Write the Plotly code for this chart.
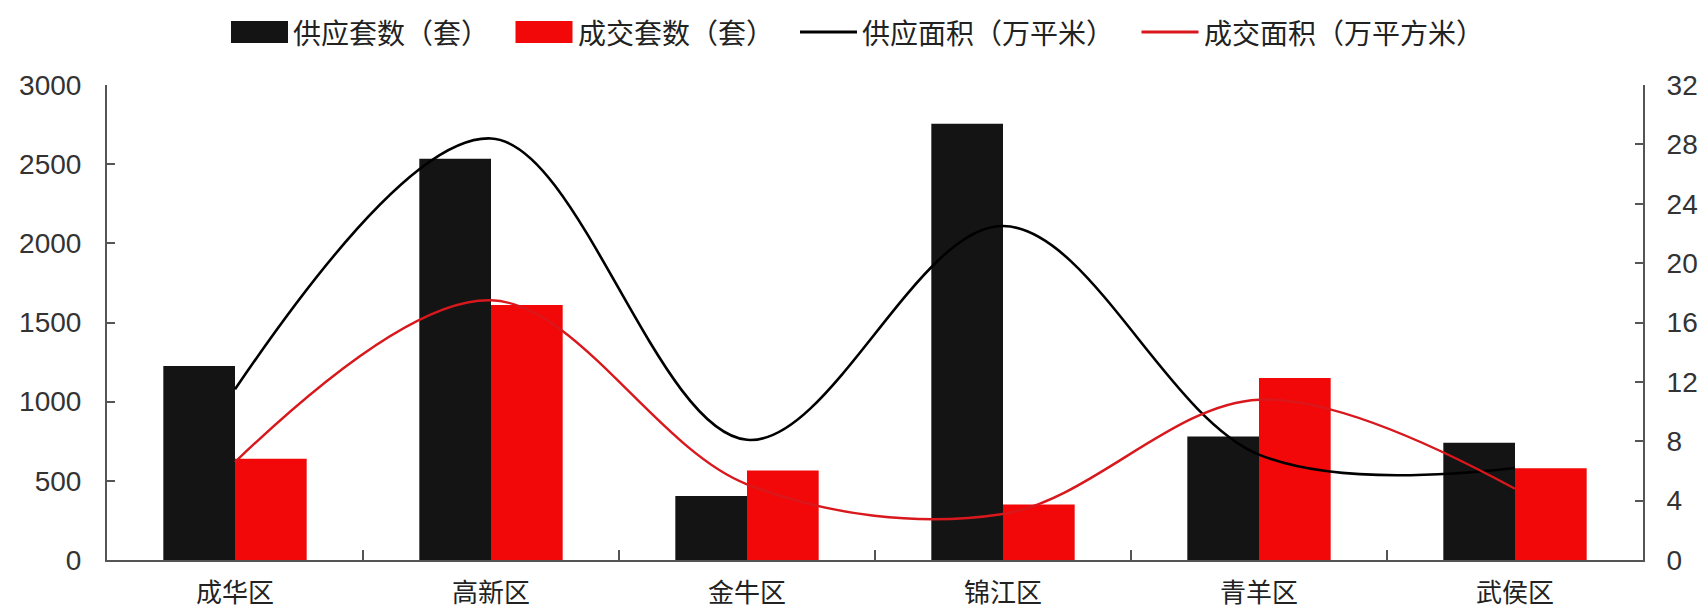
import plotly.graph_objects as go

# District-level supply and transaction data
districts = ["成华区", "高新区", "金牛区", "锦江区", "青羊区", "武侯区"]
supply_units = [1225, 2535, 405, 2755, 780, 740]      # 供应套数（套）
deal_units = [640, 1610, 565, 350, 1150, 580]         # 成交套数（套）
supply_area = [11.5, 28.4, 8.1, 22.5, 7.1, 6.2]       # 供应面积（万平米）
deal_area = [6.6, 17.5, 5.1, 3.1, 10.8, 4.8]          # 成交面积（万平方米）

left_ticks = [0, 500, 1000, 1500, 2000, 2500, 3000]
right_ticks = [0, 4, 8, 12, 16, 20, 24, 28, 32]

series_names = ["供应套数（套）", "成交套数（套）", "供应面积（万平米）", "成交面积（万平方米）"]

BLACK = "#141414"
RED = "#f20808"
RED_LINE = "#d8181c"
AXIS = "#555555"

W, H = 1700, 611
ML, MR, MT, MB = 107, 57, 85, 51
PW, PH = W - ML - MR, H - MT - MB

fig = go.Figure()
fig.add_trace(go.Bar(x=districts, y=supply_units, name=series_names[0],
                     marker=dict(color=BLACK, line=dict(width=0))))
fig.add_trace(go.Bar(x=districts, y=deal_units, name=series_names[1],
                     marker=dict(color=RED, line=dict(width=0))))
fig.add_trace(go.Scatter(x=districts, y=supply_area, name=series_names[2], yaxis="y2",
                         mode="lines", line=dict(color="#000000", width=2.6,
                                                 shape="spline", smoothing=1.0)))
fig.add_trace(go.Scatter(x=districts, y=deal_area, name=series_names[3], yaxis="y2",
                         mode="lines", line=dict(color=RED_LINE, width=2.4,
                                                 shape="spline", smoothing=1.0)))

tick_font = dict(family="Liberation Sans, Arial, sans-serif", size=28, color="#333333")
cjk_font = dict(family="Noto Sans CJK SC, sans-serif", size=28, color="#222222")

fig.update_layout(
    width=W, height=H,
    margin=dict(l=ML, r=MR, t=MT, b=MB, pad=0, autoexpand=False),
    paper_bgcolor="white", plot_bgcolor="white",
    barmode="group", bargap=0.44, bargroupgap=0.0,
    showlegend=False,
    xaxis=dict(
        type="category", showgrid=False, zeroline=False, automargin=False,
        showline=True, linecolor=AXIS, linewidth=2,
        ticks="inside", tickson="boundaries", ticklen=10, tickwidth=2, tickcolor=AXIS,
        tickfont=dict(family="Noto Sans CJK SC, sans-serif", size=26, color="#222222"),
        ticklabelstandoff=9,
    ),
    yaxis=dict(
        range=[0, 3000], tickvals=left_ticks, showgrid=False, zeroline=False,
        automargin=False,
        showline=True, linecolor=AXIS, linewidth=2,
        ticks="inside", ticklen=8, tickwidth=2, tickcolor=AXIS,
        tickfont=tick_font, ticklabelstandoff=18,
    ),
    yaxis2=dict(
        range=[0, 32], tickvals=right_ticks, overlaying="y", side="right",
        showgrid=False, zeroline=False, automargin=False,
        showline=True, linecolor=AXIS, linewidth=2,
        ticks="inside", ticklen=8, tickwidth=2, tickcolor=AXIS,
        tickfont=tick_font, ticklabelstandoff=16,
    ),
)

# Legend row drawn above the plot area
def px_x(p):
    return (p - ML) / PW

def px_y(p):
    return (H - MB - p) / PH

legend_kinds = ["bar", "bar", "line", "line"]
legend_colors = [BLACK, RED, "#000000", RED_LINE]
sym_w = 57
text_gap = 3
item_gap = 25
char_w = 28.5
cy = 32
x = 231
for name, kind, color in zip(series_names, legend_kinds, legend_colors):
    if kind == "bar":
        fig.add_shape(type="rect", xref="paper", yref="paper",
                      x0=px_x(x), x1=px_x(x + sym_w),
                      y0=px_y(cy + 11), y1=px_y(cy - 11),
                      fillcolor=color, line=dict(width=0))
    else:
        fig.add_shape(type="line", xref="paper", yref="paper",
                      x0=px_x(x), x1=px_x(x + sym_w),
                      y0=px_y(cy), y1=px_y(cy),
                      line=dict(color=color, width=3))
    tx = x + sym_w + text_gap
    fig.add_annotation(text=name, xref="paper", yref="paper",
                       x=px_x(tx), y=px_y(cy), xanchor="left", yanchor="middle",
                       showarrow=False, font=cjk_font)
    x = tx + len(name) * char_w + item_gap

fig.write_html("out.html")
